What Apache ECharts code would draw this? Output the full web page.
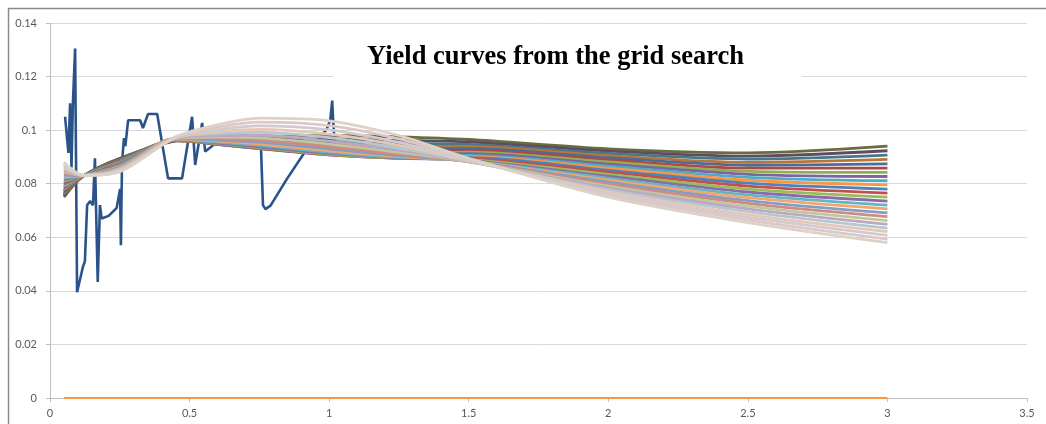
<!DOCTYPE html>
<html>
<head>
<meta charset="utf-8">
<script src="https://cdn.jsdelivr.net/npm/echarts@6/dist/echarts.min.js"></script>
<style>
  html, body { margin: 0; padding: 0; background: #fff; }
  #chart { width: 1046px; height: 424px; }
</style>
</head>
<body>
<div id="chart"></div>
<script>
// Observed market yields (jagged curve)
const marketMaturity = [0.054, 0.066, 0.072, 0.077, 0.082, 0.090, 0.097, 0.102, 0.118, 0.125,
  0.133, 0.143, 0.154, 0.161, 0.171, 0.179, 0.185, 0.210, 0.239, 0.251,
  0.254, 0.258, 0.265, 0.270, 0.276, 0.280, 0.323, 0.333, 0.351, 0.384,
  0.423, 0.473, 0.509, 0.520, 0.545, 0.556, 0.599, 0.650, 0.700, 0.755,
  0.763, 0.772, 0.790, 0.850, 0.925, 0.960, 0.990, 1.004, 1.011, 1.014, 1.020];
const marketYield = [0.1050, 0.0915, 0.1100, 0.0860, 0.1100, 0.1305, 0.0395, 0.0395, 0.0490, 0.0510,
  0.0720, 0.0735, 0.0720, 0.0895, 0.0433, 0.0720, 0.0670, 0.0680, 0.0710, 0.0780,
  0.0570, 0.0880, 0.0970, 0.0940, 0.1000, 0.1037, 0.1037, 0.1008, 0.1060, 0.1060,
  0.0820, 0.0820, 0.1050, 0.0870, 0.1027, 0.0920, 0.0956, 0.0970, 0.0965, 0.0960,
  0.0720, 0.0705, 0.0718, 0.0820, 0.0937, 0.0970, 0.1000, 0.1038, 0.1110, 0.1040, 0.0950];

// Zero reference series
const zeroMaturity = [0.05, 3];
const zeroYield = [0, 0];

// Fitted curves from the parameter grid, sampled at these maturities
const maturities = [0.05, 0.12, 0.25, 0.45, 0.6, 0.75, 1, 1.25, 1.5, 2, 2.5, 3];
const gridCurves = [
  [0.0750,0.0829,0.0895,0.0960,0.0970,0.0975,0.0980,0.0975,0.0965,0.0930,0.0915,0.0940],
  [0.0755,0.0829,0.0893,0.0960,0.0965,0.0966,0.0967,0.0962,0.0956,0.0922,0.0903,0.0923],
  [0.0759,0.0829,0.0891,0.0960,0.0960,0.0958,0.0955,0.0950,0.0947,0.0913,0.0892,0.0907],
  [0.0764,0.0829,0.0889,0.0961,0.0957,0.0951,0.0944,0.0940,0.0939,0.0905,0.0880,0.0891],
  [0.0769,0.0829,0.0887,0.0961,0.0953,0.0945,0.0935,0.0930,0.0931,0.0897,0.0869,0.0874],
  [0.0774,0.0829,0.0885,0.0961,0.0951,0.0940,0.0927,0.0922,0.0924,0.0889,0.0858,0.0858],
  [0.0779,0.0830,0.0883,0.0962,0.0949,0.0936,0.0921,0.0914,0.0918,0.0881,0.0846,0.0842],
  [0.0784,0.0830,0.0880,0.0962,0.0947,0.0933,0.0915,0.0908,0.0912,0.0873,0.0835,0.0827],
  [0.0789,0.0830,0.0878,0.0963,0.0947,0.0932,0.0912,0.0903,0.0906,0.0866,0.0824,0.0811],
  [0.0794,0.0830,0.0876,0.0963,0.0947,0.0931,0.0909,0.0900,0.0901,0.0858,0.0813,0.0796],
  [0.0799,0.0830,0.0874,0.0964,0.0947,0.0931,0.0908,0.0897,0.0897,0.0850,0.0802,0.0780],
  [0.0805,0.0830,0.0872,0.0964,0.0948,0.0933,0.0908,0.0895,0.0893,0.0843,0.0791,0.0765],
  [0.0810,0.0830,0.0870,0.0965,0.0950,0.0935,0.0910,0.0895,0.0890,0.0835,0.0780,0.0750],
  [0.0815,0.0830,0.0868,0.0966,0.0952,0.0938,0.0913,0.0896,0.0887,0.0828,0.0769,0.0735],
  [0.0821,0.0830,0.0866,0.0966,0.0955,0.0943,0.0917,0.0898,0.0885,0.0820,0.0758,0.0720],
  [0.0827,0.0830,0.0864,0.0967,0.0959,0.0948,0.0923,0.0901,0.0884,0.0813,0.0748,0.0706],
  [0.0832,0.0830,0.0862,0.0968,0.0963,0.0955,0.0930,0.0905,0.0883,0.0806,0.0737,0.0691],
  [0.0838,0.0830,0.0860,0.0969,0.0968,0.0963,0.0938,0.0910,0.0882,0.0798,0.0727,0.0677],
  [0.0844,0.0831,0.0858,0.0969,0.0974,0.0971,0.0948,0.0917,0.0882,0.0791,0.0716,0.0662],
  [0.0850,0.0831,0.0855,0.0970,0.0980,0.0981,0.0959,0.0925,0.0883,0.0784,0.0706,0.0648],
  [0.0856,0.0831,0.0853,0.0971,0.0987,0.0992,0.0972,0.0933,0.0884,0.0777,0.0696,0.0634],
  [0.0862,0.0831,0.0851,0.0972,0.0994,0.1003,0.0985,0.0943,0.0886,0.0770,0.0685,0.0621],
  [0.0868,0.0831,0.0849,0.0973,0.1002,0.1016,0.1001,0.0954,0.0889,0.0763,0.0675,0.0607],
  [0.0874,0.0831,0.0847,0.0974,0.1011,0.1030,0.1017,0.0967,0.0892,0.0757,0.0665,0.0593],
  [0.0880,0.0831,0.0845,0.0975,0.1020,0.1045,0.1035,0.0980,0.0895,0.0750,0.0655,0.0580]
];

// Axis ticks
const xTicks = [0, 0.5, 1, 1.5, 2, 2.5, 3, 3.5];
const yTicks = [0, 0.02, 0.04, 0.06, 0.08, 0.1, 0.12, 0.14];

// Office-style series palette; early curves darkened, late curves washed out
const palette = ['#4F81BD', '#C0504D', '#9BBB59', '#8064A2', '#4BACC6', '#F79646'];
function hexToRgb(h) { return [1, 3, 5].map(i => parseInt(h.substr(i, 2), 16)); }
function mix(a, b, f) { return a.map((v, i) => Math.round(v + (b[i] - v) * f)); }
function curveColor(k, n) {
  const t = k / (n - 1);
  let c = hexToRgb(palette[(k + 2) % palette.length]);
  const dark = Math.max(0, 0.55 - 1.8 * t);
  if (dark > 0) c = mix(c, [60, 45, 35], dark);
  const pale = Math.max(0, (t - 0.5) / 0.5);
  if (pale > 0) c = mix(c, [226, 212, 212], Math.min(0.9, pale * 1.05));
  return 'rgb(' + c.join(',') + ')';
}

const series = [];
series.push({
  type: 'line',
  data: marketMaturity.map((m, i) => [m, marketYield[i]]),
  showSymbol: false,
  lineStyle: { color: '#2b5389', width: 2.6 },
  itemStyle: { color: '#2b5389' },
  z: 2
});
gridCurves.forEach((row, k) => {
  const col = curveColor(k, gridCurves.length);
  series.push({
    type: 'line',
    data: maturities.map((m, i) => [m, row[i]]),
    showSymbol: false,
    smooth: 0.3,
    lineStyle: { color: col, width: 2.8 },
    itemStyle: { color: col },
    z: 2
  });
});
series.push({
  type: 'line',
  data: zeroMaturity.map((m, i) => [m, zeroYield[i]]),
  showSymbol: false,
  lineStyle: { color: '#F79646', width: 2 },
  itemStyle: { color: '#F79646' },
  z: 3
});

const chart = echarts.init(document.getElementById('chart'), null, { renderer: 'canvas' });
chart.setOption({
  animation: false,
  backgroundColor: '#fff',
  title: {
    text: 'Yield curves from the grid search',
    left: 333,
    top: 30,
    padding: [14, 58, 14, 34],
    backgroundColor: '#fff',
    textStyle: { fontFamily: 'Liberation Serif', fontWeight: 'bold', fontSize: 26.5, color: '#000' },
    z: 10
  },
  graphic: [{
    type: 'rect',
    shape: { x: 8.5, y: 8.5, width: 1100, height: 500 },
    style: { fill: 'none', stroke: '#8a8a8a', lineWidth: 1.5 },
    silent: true,
    z: 100
  }],
  grid: { left: 50, right: 19, top: 23, bottom: 26, containLabel: false },
  xAxis: {
    type: 'value',
    min: xTicks[0],
    max: xTicks[xTicks.length - 1],
    interval: 0.5,
    axisLine: { show: true, lineStyle: { color: '#bfbfbf', width: 1 } },
    axisTick: { show: true, length: 4, lineStyle: { color: '#bfbfbf' } },
    splitLine: { show: false },
    axisLabel: { color: '#595959', fontSize: 11, fontFamily: 'Lato', margin: 10,
      formatter: v => String(+v.toFixed(1)) }
  },
  yAxis: {
    type: 'value',
    min: yTicks[0],
    max: yTicks[yTicks.length - 1],
    interval: 0.02,
    axisLine: { show: true, lineStyle: { color: '#bfbfbf', width: 1 } },
    axisTick: { show: true, length: 4, lineStyle: { color: '#bfbfbf' } },
    splitLine: { show: true, lineStyle: { color: '#d9d9d9', width: 1 } },
    axisLabel: { color: '#595959', fontSize: 11, fontFamily: 'Lato', margin: 13,
      formatter: v => String(+v.toFixed(2)) }
  },
  series: series
});
</script>
</body>
</html>
